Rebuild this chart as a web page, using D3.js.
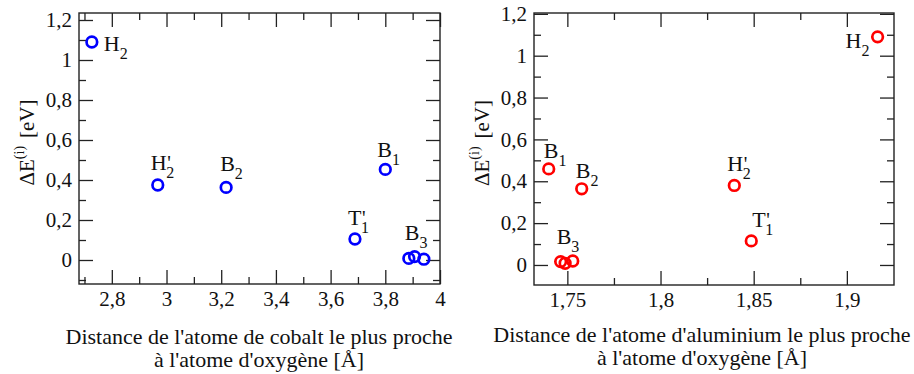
<!DOCTYPE html>
<html>
<head>
<meta charset="utf-8">
<script src="https://cdn.jsdelivr.net/npm/d3@7"></script>
<style>
  html, body { margin: 0; padding: 0; background: #fff; }
  svg { display: block; }
  text { font-family: "Liberation Serif", "Times New Roman", serif; fill: #111; }
</style>
</head>
<body>
<svg id="chart" width="914" height="374"></svg>
<script>
// ---------------- DATA ----------------
const structures   = ["H2", "H2p", "B2", "T1p", "B1", "B3a", "B3b", "B3c"];
const labelMain    = ["H", "H", "B", "T", "B", "B", "", ""];
const labelPrime   = [false, true, false, true, false, false, false, false];
const labelSub     = ["2", "2", "2", "1", "1", "3", "", ""];

// Left panel: nearest cobalt atom distance (Å) vs ΔE (eV)
const coDistance = [2.727, 2.968, 3.218, 3.689, 3.800, 3.886, 3.907, 3.941];
const coEnergy   = [1.090, 0.375, 0.363, 0.105, 0.453, 0.008, 0.017, 0.004];

// Right panel: nearest aluminium atom distance (Å) vs ΔE (eV)
const alDistance = [1.9165, 1.8396, 1.7577, 1.8487, 1.7400, 1.7464, 1.7488, 1.7529];
const alEnergy   = [1.090, 0.380, 0.364, 0.115, 0.459, 0.016, 0.008, 0.019];

const coXTicks = [2.8, 3.0, 3.2, 3.4, 3.6, 3.8, 4.0];
const coXMinor = [2.7, 2.9, 3.1, 3.3, 3.5, 3.7, 3.9];
const alXTicks = [1.75, 1.8, 1.85, 1.9];
const alXMinor = [1.775, 1.825, 1.875];
const yTicks   = [0, 0.2, 0.4, 0.6, 0.8, 1.0, 1.2];
const coYMinor = [-0.1, 0.1, 0.3, 0.5, 0.7, 0.9, 1.1];
const alYMinor = [0.1, 0.3, 0.5, 0.7, 0.9, 1.1];

const coTitle = ["Distance de l'atome de cobalt le plus proche", "à l'atome d'oxygène [Å]"];
const alTitle = ["Distance de l'atome d'aluminium le plus proche", "à l'atome d'oxygène [Å]"];

// ---------------- DRAWING ----------------
const SERIF = '"Liberation Serif", "Times New Roman", serif';
const svg = d3.select("#chart");
const fmt = d => String(+d.toFixed(3)).replace(".", ",");

// label offsets (px) relative to point centre: [dx, dy] for text start / baseline
const coLabelOff = [[12, 9], [-7, -15], [-6, -16], [-7, -14], [-8, -12], [-4, -18], null, null];
const alLabelOff = [[-32, 11], [-7, -14], [-6, -11], [1, -14], [-5, -11], [-4, -18], null, null];

function panel(cfg) {
  const x = d3.scaleLinear().domain(cfg.xDomain).range([cfg.left, cfg.right]);
  const y = d3.scaleLinear().domain(cfg.yDomain).range([cfg.bottom, cfg.top]);
  const g = svg.append("g");
  const w = cfg.right - cfg.left, h = cfg.bottom - cfg.top;

  const styleAxis = sel => {
    sel.attr("font-family", SERIF).attr("font-size", 21);
    sel.select(".domain").remove();
    sel.selectAll(".tick line").attr("stroke", "#222").attr("stroke-width", 1.3);
    sel.selectAll(".tick text").attr("fill", "#111")
      .style("font-family", SERIF)
      .style("font-size", "21px");
  };

  // major ticks with labels
  g.append("g").attr("transform", `translate(0,${cfg.bottom})`)
    .call(d3.axisBottom(x).tickValues(cfg.xTicks).tickSize(-14).tickPadding(7).tickFormat(fmt))
    .call(styleAxis);
  g.append("g").attr("transform", `translate(${cfg.left},0)`)
    .call(d3.axisLeft(y).tickValues(yTicks).tickSize(-14).tickPadding(7).tickFormat(fmt))
    .call(styleAxis);
  // mirrored ticks
  g.append("g").attr("transform", `translate(0,${cfg.top})`)
    .call(d3.axisTop(x).tickValues(cfg.xTicks).tickSize(-14).tickFormat(""))
    .call(styleAxis);
  g.append("g").attr("transform", `translate(${cfg.right},0)`)
    .call(d3.axisRight(y).tickValues(yTicks).tickSize(-14).tickFormat(""))
    .call(styleAxis);
  // minor ticks
  g.append("g").attr("transform", `translate(0,${cfg.bottom})`)
    .call(d3.axisBottom(x).tickValues(cfg.xMinor).tickSize(-7).tickFormat("")).call(styleAxis);
  g.append("g").attr("transform", `translate(0,${cfg.top})`)
    .call(d3.axisTop(x).tickValues(cfg.xMinor).tickSize(-7).tickFormat("")).call(styleAxis);
  g.append("g").attr("transform", `translate(${cfg.left},0)`)
    .call(d3.axisLeft(y).tickValues(cfg.yMinor).tickSize(-7).tickFormat("")).call(styleAxis);
  g.append("g").attr("transform", `translate(${cfg.right},0)`)
    .call(d3.axisRight(y).tickValues(cfg.yMinor).tickSize(-7).tickFormat("")).call(styleAxis);

  // frame
  g.append("rect").attr("x", cfg.left).attr("y", cfg.top).attr("width", w).attr("height", h)
    .attr("fill", "none").attr("stroke", "#222").attr("stroke-width", 1.4);

  // points
  g.selectAll("circle.pt").data(cfg.xs.map((v, i) => ({ x: v, y: cfg.ys[i], i })))
    .join("circle").attr("class", "pt")
    .attr("cx", d => x(d.x)).attr("cy", d => y(d.y)).attr("r", 5.3)
    .attr("fill", "none").attr("stroke", cfg.color).attr("stroke-width", 2.7);

  // labels
  cfg.xs.forEach((v, i) => {
    if (!labelMain[i]) return;
    const off = cfg.labelOff[i];
    const t = g.append("text")
      .attr("x", x(v) + off[0]).attr("y", y(cfg.ys[i]) + off[1])
      .style("font-size", "22px");
    t.append("tspan").text(labelMain[i]);
    if (labelPrime[i]) {
      t.append("tspan").text("'").style("font-size", "20px").attr("dx", 0.5);
      t.append("tspan").text(labelSub[i]).style("font-size", "16px").attr("dx", -4.5).attr("dy", 8);
    } else {
      t.append("tspan").text(labelSub[i]).style("font-size", "16px").attr("dy", 8);
    }
  });

  // y axis title
  const yt = g.append("text")
    .attr("transform", `translate(${cfg.left - 45},${(cfg.top + cfg.bottom) / 2 - 6}) rotate(-90)`)
    .attr("text-anchor", "middle").style("font-size", "21px");
  yt.append("tspan").text("ΔE");
  yt.append("tspan").text("(i)").style("font-size", "14px").attr("dy", -10);
  yt.append("tspan").text("[eV]").attr("dx", 8).attr("dy", 10);

  // x axis title
  const cx = cfg.titleCx;
  cfg.title.forEach((line, k) => {
    g.append("text").attr("x", cx).attr("y", cfg.titleY + k * 23)
      .attr("text-anchor", "middle").style("font-size", "22px").text(line);
  });
}

panel({
  left: 79, right: 440, top: 13, bottom: 284,
  xDomain: [2.68, 4.0], yDomain: [-0.12, 1.235],
  xTicks: coXTicks, xMinor: coXMinor, yMinor: coYMinor,
  xs: coDistance, ys: coEnergy, color: "#0000ff",
  labelOff: coLabelOff, title: coTitle, titleCx: 259, titleY: 344
});
panel({
  left: 534, right: 894, top: 13, bottom: 285,
  xDomain: [1.7321, 1.9253], yDomain: [-0.0957, 1.204],
  xTicks: alXTicks, xMinor: alXMinor, yMinor: alYMinor,
  xs: alDistance, ys: alEnergy, color: "#ff0000",
  labelOff: alLabelOff, title: alTitle, titleCx: 702, titleY: 342
});
</script>
</body>
</html>
